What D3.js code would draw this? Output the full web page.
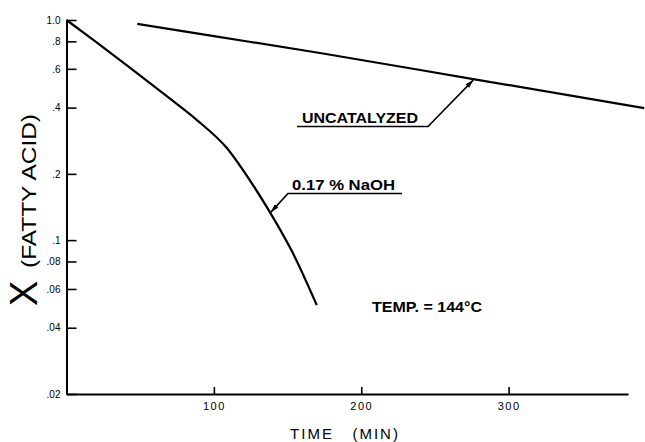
<!DOCTYPE html>
<html>
<head>
<meta charset="utf-8">
<script src="https://cdn.jsdelivr.net/npm/d3@7"></script>
<style>
  html, body { margin: 0; padding: 0; background: #fff; }
  svg { display: block; }
  text { font-family: "Liberation Sans", Arial, sans-serif; fill: #000; }
</style>
</head>
<body>
<svg id="chart" width="645" height="442"></svg>
<script>
// ---- data ----
const timeTicks = [100, 200, 300];
const timeTickLabels = ["100", "200", "300"];
const xTickValues = [1.0, 0.8, 0.6, 0.4, 0.2, 0.1, 0.08, 0.06, 0.04, 0.02];
const xTickLabels = ["1.0", ".8", ".6", ".4", ".2", ".1", ".08", ".06", ".04", ".02"];

// 0.17 % NaOH catalyzed run
const naohTime = [0, 20, 41, 70, 88.5, 108.8, 124.4, 138, 153.6, 169.8];
const naohX    = [1.0, 0.796, 0.622, 0.44, 0.351, 0.262, 0.187, 0.134, 0.0873, 0.0507];

// uncatalyzed run
const uncatTime = [48, 100, 172, 276, 392];
const uncatX    = [0.96, 0.845, 0.708, 0.539, 0.398];

const xLabel = "TIME   (MIN)";
const yLabelBig = "X";
const yLabelSmall = "(FATTY ACID)";
const seriesLabels = ["UNCATALYZED", "0.17 % NaOH"];
const tempLabel = "TEMP. = 144°C";

// ---- layout ----
const svg = d3.select("#chart");
const x = d3.scaleLinear().domain([0, 381]).range([66.5, 628]);
const y = d3.scaleLog().domain([0.02, 1.0]).range([394, 20]);

// axes
const yAxis = d3.axisLeft(y)
  .tickValues(xTickValues)
  .tickFormat((d, i) => xTickLabels[i])
  .tickSizeInner(-10).tickSizeOuter(0).tickPadding(6);
const gy = svg.append("g").attr("transform", `translate(${x(0)},0)`).call(yAxis);
gy.select(".domain").attr("stroke", "#000").attr("stroke-width", 2);
gy.selectAll(".tick line").attr("stroke", "#000").attr("stroke-width", 1.6);
gy.selectAll(".tick text").attr("font-size", 10).attr("font-family", "Liberation Sans, Arial, sans-serif");

const xAxis = d3.axisBottom(x)
  .tickValues(timeTicks)
  .tickFormat((d, i) => timeTickLabels[i])
  .tickSizeInner(-7).tickSizeOuter(0).tickPadding(8);
const gx = svg.append("g").attr("transform", `translate(0,${y(0.02)})`).call(xAxis);
gx.select(".domain").attr("stroke", "#000").attr("stroke-width", 2);
gx.selectAll(".tick line").attr("stroke", "#000").attr("stroke-width", 1.6);
gx.selectAll(".tick text").attr("font-size", 11).attr("letter-spacing", "1.5px")
  .attr("font-family", "Liberation Sans, Arial, sans-serif");

// lines
const line = d3.line().x(d => x(d[0])).y(d => y(d[1])).curve(d3.curveMonotoneX);
const naoh = naohTime.map((t, i) => [t, naohX[i]]);
const uncat = uncatTime.map((t, i) => [t, uncatX[i]]);

svg.append("path").datum(naoh).attr("d", line)
  .attr("fill", "none").attr("stroke", "#000").attr("stroke-width", 2.2);
svg.append("path").datum(uncat).attr("d", line)
  .attr("fill", "none").attr("stroke", "#000").attr("stroke-width", 2.2);

// arrow marker
svg.append("defs").append("marker")
  .attr("id", "arr").attr("viewBox", "0 0 10 6").attr("refX", 10).attr("refY", 3)
  .attr("markerWidth", 10).attr("markerHeight", 5).attr("markerUnits", "userSpaceOnUse")
  .attr("orient", "auto")
  .append("path").attr("d", "M0,0 L10,3 L0,6 Z").attr("fill", "#000");

// annotation: uncatalyzed
const uTip = [x(276), y(0.539)];
svg.append("text").attr("x", 302).attr("y", 123).attr("font-size", 15).attr("font-weight", "bold")
  .attr("textLength", 116).attr("lengthAdjust", "spacingAndGlyphs").text(seriesLabels[0]);
svg.append("path")
  .attr("d", `M297,126.5 L428,126.5 L${uTip[0]},${uTip[1] + 1}`)
  .attr("fill", "none").attr("stroke", "#000").attr("stroke-width", 1.6)
  .attr("marker-end", "url(#arr)");

// annotation: NaOH
const nTip = [x(138), y(0.134)];
svg.append("text").attr("x", 292).attr("y", 190).attr("font-size", 14).attr("font-weight", "bold")
  .attr("textLength", 103).attr("lengthAdjust", "spacingAndGlyphs").text(seriesLabels[1]);
svg.append("path")
  .attr("d", `M402,193.5 L288,193.5 L${nTip[0] + 1},${nTip[1]}`)
  .attr("fill", "none").attr("stroke", "#000").attr("stroke-width", 1.6)
  .attr("marker-end", "url(#arr)");

// temperature note
svg.append("text").attr("x", 482).attr("y", 312).attr("text-anchor", "end")
  .attr("font-size", 14).attr("font-weight", "bold")
  .attr("textLength", 110).attr("lengthAdjust", "spacingAndGlyphs").text(tempLabel);

// axis titles
svg.append("text").attr("x", 345).attr("y", 439).attr("text-anchor", "middle")
  .attr("font-size", 15).attr("letter-spacing", "2px")
  .style("white-space", "pre").text(xLabel);

svg.append("text").attr("transform", "translate(37,306) rotate(-90)")
  .attr("font-size", 38).text(yLabelBig);
svg.append("text").attr("transform", "translate(36,268) rotate(-90)")
  .attr("font-size", 20).attr("textLength", 154).attr("lengthAdjust", "spacingAndGlyphs")
  .text(yLabelSmall);
</script>
</body>
</html>
